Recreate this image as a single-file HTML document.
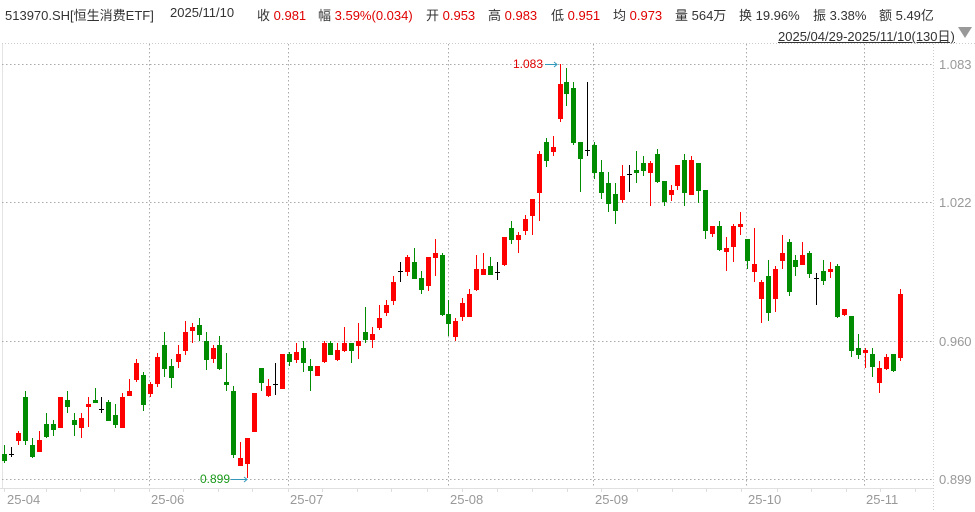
<!DOCTYPE html>
<html><head><meta charset="utf-8">
<style>
html,body{margin:0;padding:0;background:#fff;width:975px;height:512px;overflow:hidden}
.t{position:absolute;top:5px;font:13px "Liberation Sans","Noto Sans CJK SC",sans-serif;color:#333;white-space:nowrap}
.r{color:#e00000}
</style></head><body>
<div class="t" style="left:5px">513970.SH[恒生消费ETF]</div>
<div class="t" style="left:170px">2025/11/10</div>
<div class="t" style="left:257px">收 <span class="r">0.981</span></div>
<div class="t" style="left:318px">幅 <span class="r">3.59%(0.034)</span></div>
<div class="t" style="left:426px">开 <span class="r">0.953</span></div>
<div class="t" style="left:488px">高 <span class="r">0.983</span></div>
<div class="t" style="left:551px">低 <span class="r">0.951</span></div>
<div class="t" style="left:613px">均 <span class="r">0.973</span></div>
<div class="t" style="left:675px">量 564万</div>
<div class="t" style="left:739px">换 19.96%</div>
<div class="t" style="left:813px">振 3.38%</div>
<div class="t" style="left:879px">额 5.49亿</div>
<div class="t" style="left:778px;top:26px;text-decoration:underline">2025/04/29-2025/11/10(130日)</div>
<svg id="s" width="975" height="512" style="position:absolute;left:0;top:0" font-family="Liberation Sans, sans-serif"></svg>
<script>
var d=[[445,463,454,461,'g'],[447,457,454,454,'k'],[431,445,433,441,'r'],[391,445,397,441,'g'],[438,458,445,457,'g'],[431,452,440,452,'r'],[413,438,424,437,'g'],[420,436,424,430,'g'],[397,428,397,428,'r'],[391,413,400,407,'g'],
[413,436,420,425,'g'],[413,438,418,428,'r'],[397,427,404,407,'r'],[388,403,400,403,'g'],[397,413,409,409,'k'],[400,421,402,421,'g'],[404,428,415,425,'g'],[393,428,397,428,'r'],[379,396,391,396,'r'],[359,382,363,380,'r'],
[372,411,375,405,'g'],[382,397,384,394,'r'],[353,387,357,384,'r'],[332,377,345,369,'g'],[359,388,366,378,'g'],[345,368,354,362,'r'],[321,355,332,351,'r'],[323,343,327,331,'r'],[318,341,325,335,'g'],[332,370,341,360,'g'],
[345,363,348,359,'r'],[336,370,345,369,'g'],[353,391,382,385,'g'],[386,458,391,455,'g'],[442,466,458,466,'r'],[438,478,438,464,'r'],[393,432,393,432,'r'],[368,391,368,383,'g'],[379,397,386,396,'r'],[363,395,384,384,'k'],
[354,389,354,389,'r'],[352,366,354,362,'g'],[343,363,352,360,'r'],[341,372,348,363,'g'],[359,391,366,371,'g'],[366,376,366,376,'r'],[341,363,343,362,'r'],[341,355,343,355,'g'],[343,361,350,360,'r'],[327,352,343,351,'r'],
[343,363,343,351,'g'],[323,359,341,346,'r'],[307,343,332,340,'g'],[327,348,334,340,'r'],[305,330,318,328,'r'],[300,316,305,313,'r'],[276,305,282,301,'r'],[262,282,271,271,'k'],[255,276,257,272,'r'],[248,279,262,279,'g'],
[271,294,278,290,'g'],[257,291,257,286,'r'],[239,276,253,258,'r'],[253,316,255,315,'g'],[300,336,314,324,'g'],[318,341,321,337,'r'],[298,321,303,317,'r'],[289,317,294,317,'r'],[255,291,269,290,'r'],[253,275,269,275,'r'],
[257,275,266,275,'g'],[262,280,272,272,'k'],[237,266,237,265,'r'],[221,244,228,240,'g'],[232,253,235,240,'r'],[215,235,219,231,'r'],[199,235,199,216,'r'],[151,221,154,193,'r'],[138,167,142,161,'g'],[136,156,147,152,'r'],
[64,122,84,119,'r'],[68,106,82,94,'g'],[82,145,88,143,'g'],[142,192,142,159,'g'],[82,156,150,150,'k'],[142,179,145,173,'g'],[160,199,172,193,'g'],[172,212,183,204,'g'],[183,224,194,211,'g'],[165,203,176,200,'r'],
[165,192,174,174,'k'],[151,183,170,173,'g'],[156,176,163,171,'g'],[161,206,163,173,'r'],[149,183,154,182,'g'],[181,206,181,202,'g'],[185,201,190,195,'r'],[165,190,165,186,'r'],[154,206,160,193,'g'],[156,195,160,195,'r'],
[163,203,163,191,'g'],[190,239,190,231,'g'],[226,237,226,234,'r'],[221,251,226,250,'g'],[237,271,248,252,'r'],[224,262,226,247,'r'],[212,235,224,227,'r'],[239,269,239,261,'g'],[228,282,264,272,'r'],[280,323,282,299,'r'],
[260,321,276,313,'g'],[266,312,269,299,'r'],[235,269,253,261,'r'],[239,296,242,292,'g'],[255,276,260,267,'g'],[242,265,255,265,'r'],[251,278,253,274,'g'],[273,305,278,278,'k'],[260,285,271,281,'g'],[262,278,269,272,'r'],
[264,318,266,317,'g'],[309,316,309,315,'r'],[316,357,316,351,'g'],[334,359,348,355,'g'],[348,368,350,353,'r'],[348,377,354,367,'g'],[361,393,368,383,'r'],[354,370,357,369,'r'],[354,372,354,371,'g'],[289,361,294,358,'r']];
var h='';
h+='<line x1="2" y1="43.5" x2="975" y2="43.5" stroke="#ccc" stroke-dasharray="1,2"/>';
h+='<line x1="2.5" y1="44" x2="2.5" y2="488" stroke="#e4e4e4"/>';
h+='<line x1="933.5" y1="44" x2="933.5" y2="512" stroke="#ccc" stroke-dasharray="1,2"/>';
h+='<line x1="0" y1="488.5" x2="933" y2="488.5" stroke="#e0e0e0"/>';
[64,202,341,479].forEach(function(y){h+='<line x1="2" y1="'+(y+.5)+'" x2="933" y2="'+(y+.5)+'" stroke="#aaa" stroke-dasharray="1.5,2.5"/>';});
[149,288,448,593,746,864].forEach(function(x){h+='<line x1="'+(x+.5)+'" y1="44" x2="'+(x+.5)+'" y2="488" stroke="#aaa" stroke-dasharray="1.5,2.5"/>';});
[[64,'1.083'],[202,'1.022'],[341,'0.960'],[479,'0.899']].forEach(function(a){h+='<text x="939" y="'+(a[0]+5)+'" font-size="13" fill="#999">'+a[1]+'</text>';});
[[7,'25-04'],[151,'25-06'],[290,'25-07'],[450,'25-08'],[595,'25-09'],[748,'25-10'],[866,'25-11']].forEach(function(a){h+='<text x="'+a[0]+'" y="504" font-size="13" fill="#999">'+a[1]+'</text>';});
[4,46,80,114,149,183,218,252,288,322,357,391,427,462,497,532,567,601,637,672,706,741,777,811,846,880,915].forEach(function(x){h+='<line x1="'+(x+.5)+'" y1="488" x2="'+(x+.5)+'" y2="492" stroke="#ddd"/>';});
var col={r:'#f00',g:'#008c00',k:'#000'};
d.forEach(function(c,i){var x=4.3+6.94*i,cx=Math.round(x)+.5,C=col[c[4]];
h+='<line x1="'+cx+'" y1="'+c[0]+'" x2="'+cx+'" y2="'+c[1]+'" stroke="'+C+'" stroke-width="1"/>';
if(c[4]=='k'||c[3]-c[2]<1){h+='<line x1="'+(cx-2.5)+'" y1="'+(c[2]+.5)+'" x2="'+(cx+2.5)+'" y2="'+(c[2]+.5)+'" stroke="'+C+'"/>';}
else h+='<rect x="'+(cx-2.5)+'" y="'+c[2]+'" width="5" height="'+(c[3]-c[2])+'" fill="'+C+'"/>';});
h+='<text x="513" y="68" font-size="12" fill="#e00000">1.083</text><line x1="545" y1="64.5" x2="557" y2="64.5" stroke="#3399bb"/><path d="M554 62 L557 64.5 L554 67" fill="none" stroke="#3399bb"/>';
h+='<text x="200" y="483" font-size="12" fill="#1a9a1a">0.899</text><line x1="231" y1="479.5" x2="247" y2="479.5" stroke="#3399bb"/><path d="M244 477 L247 479.5 L244 482" fill="none" stroke="#3399bb"/>';
h+='<path d="M958 27 L972 27 L965 38 Z" fill="#999"/>';
document.getElementById('s').innerHTML=h;
</script>
</body></html>
